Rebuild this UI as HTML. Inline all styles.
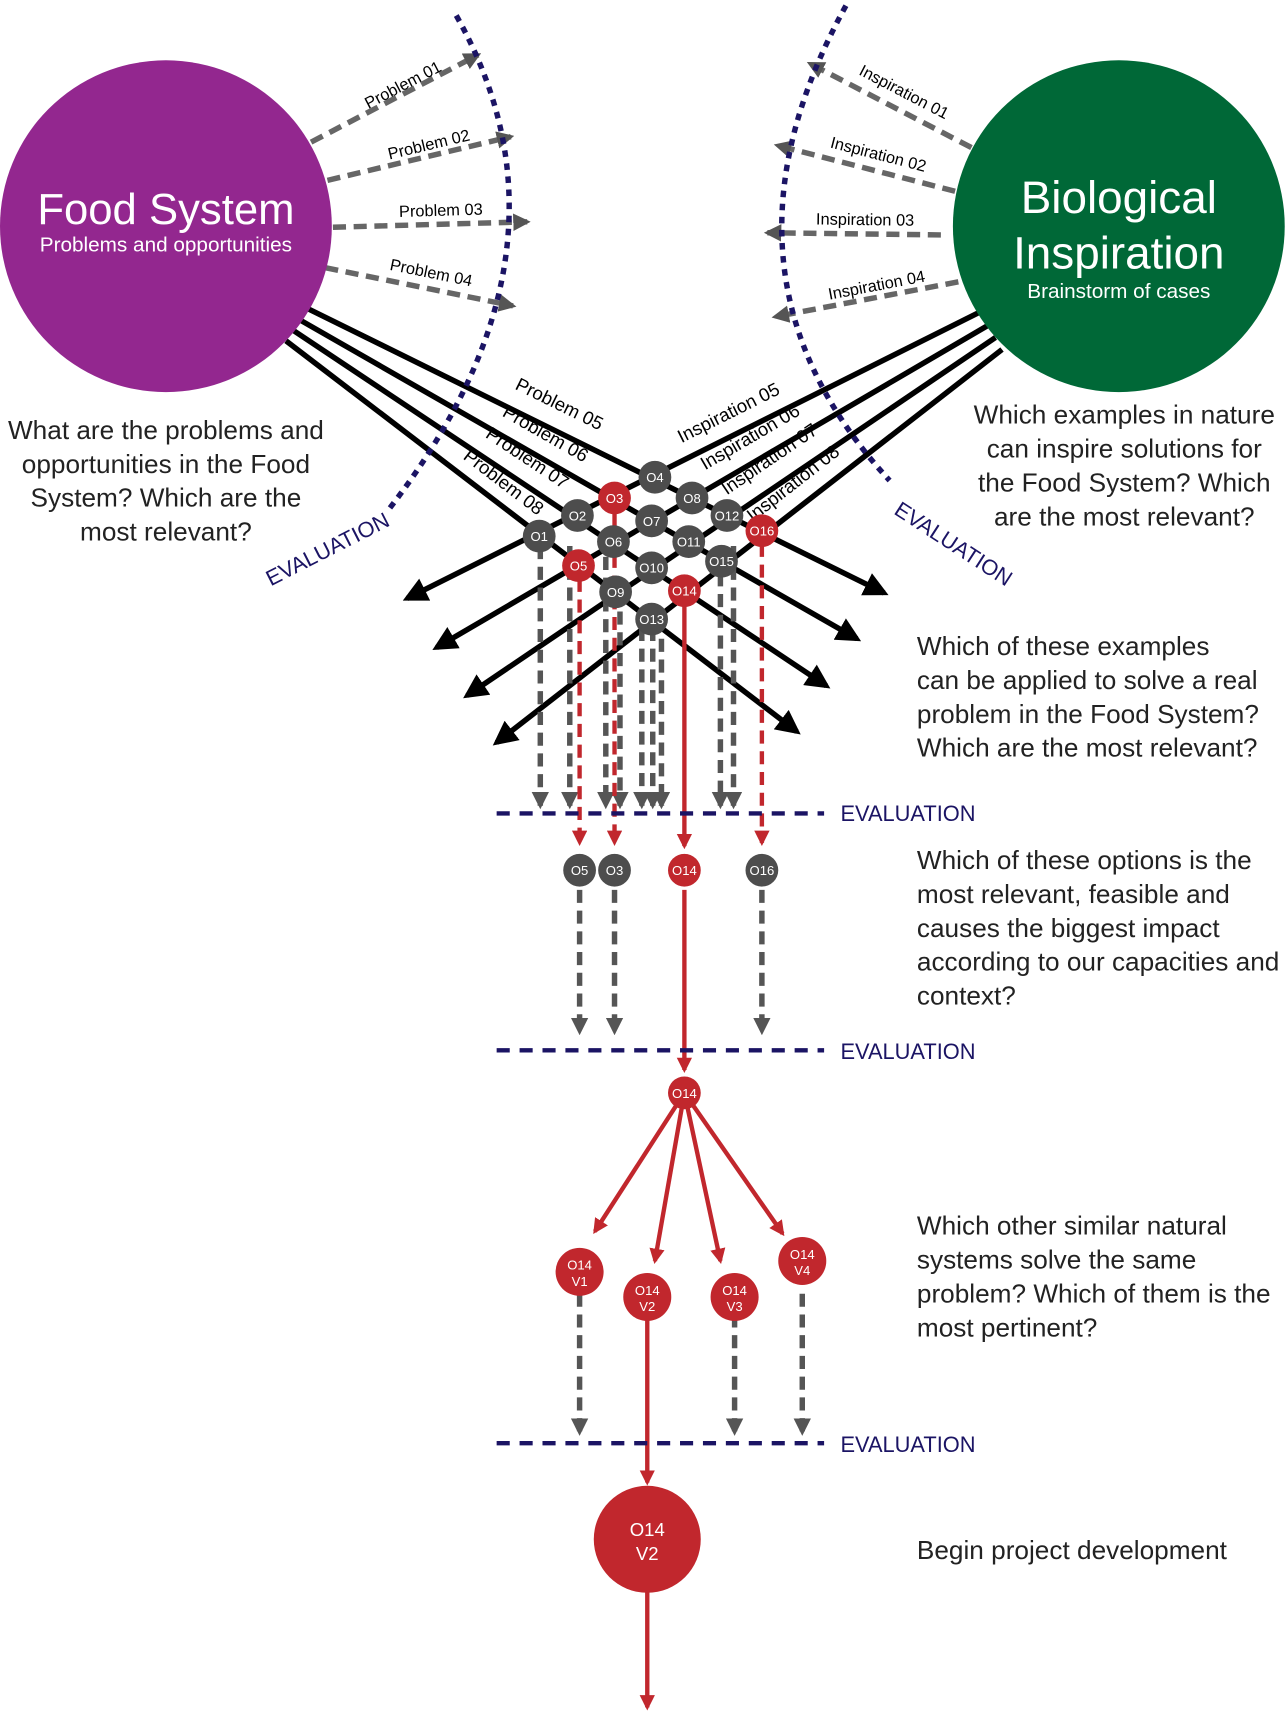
<!DOCTYPE html>
<html><head><meta charset="utf-8"><style>
html,body{margin:0;padding:0;background:#fff}
svg{display:block}
text{font-family:"Liberation Sans",sans-serif}
</style></head><body>
<svg width="1288" height="1712" viewBox="0 0 1180 1568" xmlns="http://www.w3.org/2000/svg">
<defs>
<marker id="ag" viewBox="0 0 10 10" refX="8" refY="5" markerWidth="3.2" markerHeight="3.2" orient="auto"><path d="M0,0L10,5L0,10z" fill="#555"/></marker>
<marker id="ak" viewBox="0 0 10 10" refX="8" refY="5" markerWidth="4.5" markerHeight="4.5" orient="auto"><path d="M0,0L10,5L0,10z" fill="#000"/></marker>
<marker id="ar" viewBox="0 0 10 10" refX="8" refY="5" markerWidth="3.5" markerHeight="3.5" orient="auto"><path d="M0,0L10,5L0,10z" fill="#c1272d"/></marker>
</defs>
<g id="lines"></g>
<g id="fg"></g>
<circle cx="152" cy="207" r="152" fill="#93278f"/>
<text x="152" y="205" text-anchor="middle" font-size="40" fill="#fff">Food System</text>
<text x="152" y="230" text-anchor="middle" font-size="19" fill="#fff">Problems and opportunities</text>
<circle cx="1025" cy="207" r="152" fill="#006837"/>
<text x="1025" y="195" text-anchor="middle" font-size="42" fill="#fff">Biological</text>
<text x="1025" y="246" text-anchor="middle" font-size="42" fill="#fff">Inspiration</text>
<text x="1025" y="273" text-anchor="middle" font-size="19" fill="#fff">Brainstorm of cases</text>
<path d="M418,14 Q540,230 355,468" fill="none" stroke="#1b1464" stroke-width="5" stroke-dasharray="6,6"/>
<path d="M775,5 Q640,250 815,440" fill="none" stroke="#1b1464" stroke-width="5" stroke-dasharray="6,6"/>
<text transform="translate(248,537) rotate(-27)" font-size="20" fill="#1b1464">EVALUATION</text>
<text transform="translate(818,470) rotate(33)" font-size="20" fill="#1b1464">EVALUATION</text>
<g font-size="24" fill="#222" text-anchor="middle">
<text x="152" y="402">What are the problems and</text><text x="152" y="433">opportunities in the Food</text><text x="152" y="464">System? Which are the</text><text x="152" y="495">most relevant?</text>
<text x="1030" y="388">Which examples in nature</text><text x="1030" y="419">can inspire solutions for</text><text x="1030" y="450">the Food System? Which</text><text x="1030" y="481">are the most relevant?</text>
</g>
<g font-size="24" fill="#222">
<text x="840" y="600">Which of these examples</text><text x="840" y="631">can be applied to solve a real</text><text x="840" y="662">problem in the Food System?</text><text x="840" y="693">Which are the most relevant?</text>
<text x="840" y="796">Which of these options is the</text><text x="840" y="827">most relevant, feasible and</text><text x="840" y="858">causes the biggest impact</text><text x="840" y="889">according to our capacities and</text><text x="840" y="920">context?</text>
<text x="840" y="1131">Which other similar natural</text><text x="840" y="1162">systems solve the same</text><text x="840" y="1193">problem? Which of them is the</text><text x="840" y="1224">most pertinent?</text>
<text x="840" y="1428">Begin project development</text>
</g>
<g stroke="#1b1464" stroke-width="4" stroke-dasharray="12,9">
<line x1="455" y1="745" x2="755" y2="745"/><line x1="455" y1="962" x2="755" y2="962"/><line x1="455" y1="1322" x2="755" y2="1322"/>
</g>
<g font-size="20" fill="#1b1464">
<text x="770" y="752">EVALUATION</text><text x="770" y="970">EVALUATION</text><text x="770" y="1330">EVALUATION</text>
</g>
<g id="nodes"></g>
<circle cx="593" cy="1410" r="49" fill="#c1272d"/>
<text x="593" y="1407" text-anchor="middle" font-size="17" fill="#fff">O14</text>
<text x="593" y="1429" text-anchor="middle" font-size="17" fill="#fff">V2</text>
<script>
const NS='http://www.w3.org/2000/svg';
function el(p,t,a){const e=document.createElementNS(NS,t);for(const k in a)e.setAttribute(k,a[k]);p.appendChild(e);return e;}
const L=document.getElementById('lines'),F=document.getElementById('fg'),N=document.getElementById('nodes');
const pa=[[285,130,438,50,'Problem 01'],[300,165,468,125,'Problem 02'],[305,208,483,203,'Problem 03'],[298,245,470,280,'Problem 04'],
[890,135,742,58,'Inspiration 01'],[875,175,712,133,'Inspiration 02'],[862,215,703,213,'Inspiration 03'],[878,258,710,290,'Inspiration 04']];
pa.forEach(p=>{const g=el(L,'line',{x1:p[0],y1:p[1],x2:p[2],y2:p[3],stroke:'#666','stroke-width':5,'stroke-dasharray':'12,7','marker-end':'url(#ag)'});

const mx=(p[0]+p[2])/2,my=(p[1]+p[3])/2,ang=Math.atan2(p[3]-p[1],p[2]-p[0])*180/Math.PI;let a=ang;if(a>90||a<-90)a+=180;
const t=el(L,'text',{transform:`translate(${mx+10},${my-8}) rotate(${a})`,'text-anchor':'middle','font-size':15,fill:'#000'});t.textContent=p[4];});
const bl=[[283,283,810,543,'Problem 05',510,375],[275,293,785,585,'Problem 06',497,402],[268,302,757,628,'Problem 07',480,424],[262,312,730,670,'Problem 08',458,446],
[897,286,373,548,'Inspiration 05',670,383],[905,298,400,593,'Inspiration 06',690,405],[912,309,428,637,'Inspiration 07',708,425],[918,320,455,680,'Inspiration 08',730,447]];
bl.forEach(p=>{const g=el(L,'line',{x1:p[0],y1:p[1],x2:p[2],y2:p[3],stroke:'#000','stroke-width':5,'marker-end':'url(#ak)'});

let a=Math.atan2(p[3]-p[1],p[2]-p[0])*180/Math.PI;if(a>90||a<-90)a+=180;
const t=el(L,'text',{transform:`translate(${p[5]},${p[6]}) rotate(${a})`,'text-anchor':'middle','font-size':17,fill:'#000'});t.textContent=p[4];});
[[495,500],[522,500],[555,510],[568,560],[588,575],[598,575],[606,585],[660,525],[672,500]].forEach(v=>{el(F,'line',{x1:v[0],y1:v[1],x2:v[0],y2:738,stroke:'#555','stroke-width':5,'stroke-dasharray':'12,7','marker-end':'url(#ag)'});});
[[531,530,772],[563,470,772],[698,498,772]].forEach(v=>{el(F,'line',{x1:v[0],y1:v[1],x2:v[0],y2:v[2],stroke:'#c1272d','stroke-width':4,'stroke-dasharray':'12,7','marker-end':'url(#ar)'});});
el(F,'line',{x1:627,y1:541,x2:627,y2:775,stroke:'#c1272d','stroke-width':4,'marker-end':'url(#ar)'});
[531,563,698].forEach(x=>el(F,'line',{x1:x,y1:815,x2:x,y2:945,stroke:'#555','stroke-width':5,'stroke-dasharray':'12,7','marker-end':'url(#ag)'}));
el(F,'line',{x1:627,y1:815,x2:627,y2:980,stroke:'#c1272d','stroke-width':4,'marker-end':'url(#ar)'});
[[545,1128],[600,1155],[660,1155],[717,1130]].forEach(e=>el(F,'line',{x1:627,y1:1001,x2:e[0],y2:e[1],stroke:'#c1272d','stroke-width':4,'marker-end':'url(#ar)'}));
[531,673,735].forEach(x=>el(F,'line',{x1:x,y1:1185,x2:x,y2:1312,stroke:'#555','stroke-width':5,'stroke-dasharray':'12,7','marker-end':'url(#ag)'}));
el(F,'line',{x1:593,y1:1205,x2:593,y2:1358,stroke:'#c1272d','stroke-width':4,'marker-end':'url(#ar)'});
el(F,'line',{x1:593,y1:1455,x2:593,y2:1564,stroke:'#c1272d','stroke-width':4,'marker-end':'url(#ar)'});
const nodes=[['O4',600,437,0],['O3',563,456,1],['O8',634,456,0],['O2',529,472,0],['O7',597,477,0],['O12',666,472,0],['O1',494,491,0],['O6',562,496,0],['O11',631,496,0],['O16',698,486,1],['O5',530,518,1],['O10',597,520,0],['O15',661,514,0],['O9',564,542,0],['O14',627,541,1],['O13',597,567,0],
['O5',531,797,0],['O3',563,797,0],['O14',627,797,1],['O16',698,797,0],['O14',627,1001,1]];
nodes.forEach(n=>{const c=el(N,'circle',{cx:n[1],cy:n[2],r:15,fill:n[3]?'#c1272d':'#4d4d4d'});

const t=el(N,'text',{x:n[1],y:n[2]+4.5,'text-anchor':'middle','font-size':12,fill:'#fff'});t.textContent=n[0];});
[['V1',531,1165],['V2',593,1188],['V3',673,1188],['V4',735,1155]].forEach(v=>{const c=el(N,'circle',{cx:v[1],cy:v[2],r:22,fill:'#c1272d'});

let t=el(N,'text',{x:v[1],y:v[2]-2,'text-anchor':'middle','font-size':12,fill:'#fff'});t.textContent='O14';
t=el(N,'text',{x:v[1],y:v[2]+13,'text-anchor':'middle','font-size':12,fill:'#fff'});t.textContent=v[0];});
</script>
</svg>
</body></html>
